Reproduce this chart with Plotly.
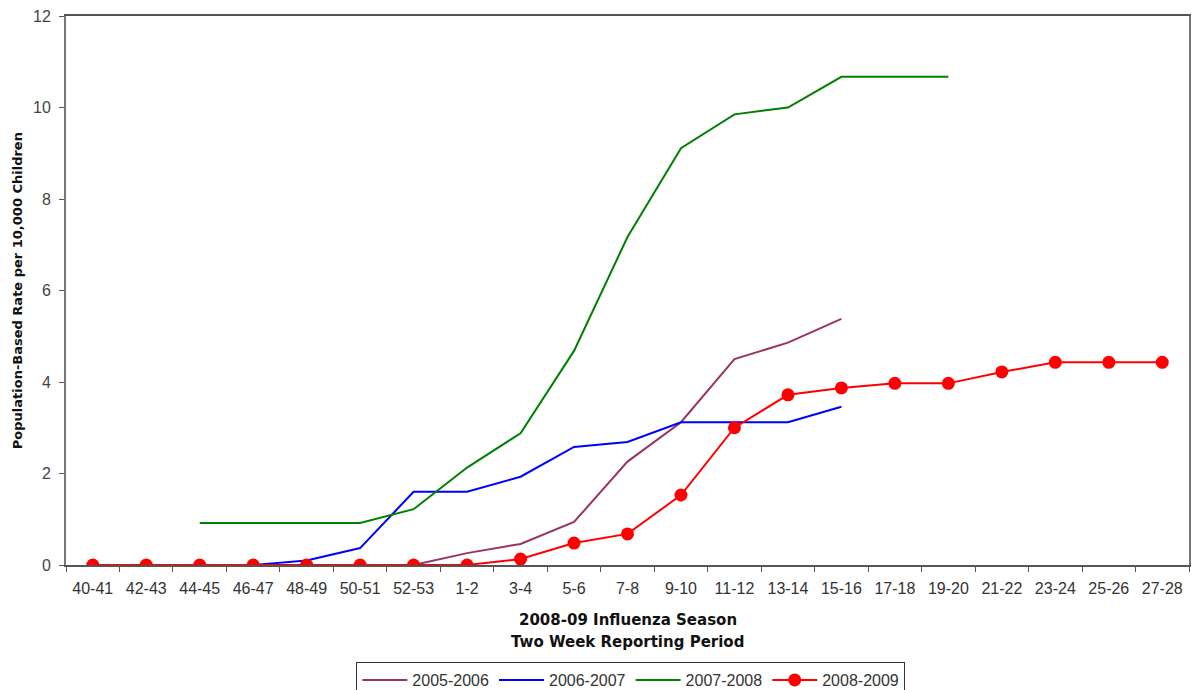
import plotly.graph_objects as go

periods = ["40-41", "42-43", "44-45", "46-47", "48-49", "50-51", "52-53", "1-2", "3-4",
           "5-6", "7-8", "9-10", "11-12", "13-14", "15-16", "17-18", "19-20", "21-22",
           "23-24", "25-26", "27-28"]

s2005 = [0, 0, 0, 0, 0, 0, 0, 0.26, 0.46, 0.94, 2.26, 3.12, 4.5, 4.86, 5.38]
s2006 = [0, 0, 0, 0, 0.1, 0.37, 1.6, 1.6, 1.93, 2.58, 2.69, 3.12, 3.12, 3.12, 3.46]
s2007_periods = periods[2:17]
s2007 = [0.92, 0.92, 0.92, 0.92, 1.22, 2.13, 2.88, 4.68, 7.17, 9.11, 9.85, 10.0, 10.67, 10.67, 10.67]
s2008 = [0, 0, 0, 0, 0, 0, 0, 0, 0.13, 0.48, 0.68, 1.53, 3.0, 3.72, 3.87, 3.97, 3.97,
         4.22, 4.43, 4.43, 4.43]

font_family = "Liberation Sans, Arial, sans-serif"
title_family = "DejaVu Sans, Verdana, sans-serif"

fig = go.Figure()
fig.add_trace(go.Scatter(x=periods[:len(s2005)], y=s2005, mode="lines", name="2005-2006",
                         line=dict(color="#993366", width=2)))
fig.add_trace(go.Scatter(x=periods[:len(s2006)], y=s2006, mode="lines", name="2006-2007",
                         line=dict(color="#0000FF", width=2)))
fig.add_trace(go.Scatter(x=s2007_periods, y=s2007, mode="lines", name="2007-2008",
                         line=dict(color="#008000", width=2)))
fig.add_trace(go.Scatter(x=periods, y=s2008, mode="lines+markers", name="2008-2009",
                         line=dict(color="#FF0000", width=2),
                         marker=dict(color="#FF0000", size=13)))

fig.update_layout(
    width=1194, height=690,
    margin=dict(l=66, r=5, t=16, b=125, autoexpand=False),
    plot_bgcolor="white", paper_bgcolor="white",
    font=dict(family=font_family, size=16, color="#333333"),
    showlegend=True,
    legend=dict(orientation="h", x=0.503, xanchor="center", y=-0.1767, yanchor="top",
                bordercolor="#333333", borderwidth=1, font=dict(size=16, color="#333333"),
                itemwidth=45, tracegroupgap=0),
    xaxis=dict(type="category", categoryorder="array", categoryarray=periods,
               range=[-0.5, 20.5],
               showgrid=False, zeroline=False, showline=True, linecolor="#555555", linewidth=2,
               mirror=True, ticks="outside", tickson="boundaries", ticklen=5,
               ticklabelstandoff=8,
               tickcolor="#555555", tickfont=dict(size=16, color="#333333")),
    yaxis=dict(range=[0, 12], dtick=2, showgrid=False, zeroline=False, showline=True,
               linecolor="#777777", linewidth=2, mirror=True, ticks="outside", ticklen=5,
               ticklabelstandoff=5,
               tickcolor="#555555", tickfont=dict(size=16, color="#444444")),
    annotations=[
        dict(text="<b>2008-09 Influenza Season</b>",
             xref="paper", yref="paper", x=0.5, y=(565 - 620) / 549, xanchor="center",
             yanchor="middle", showarrow=False,
             font=dict(family=title_family, size=15, color="#111111")),
        dict(text="<b>Two Week Reporting Period</b>",
             xref="paper", yref="paper", x=0.5, y=(565 - 642) / 549, xanchor="center",
             yanchor="middle", showarrow=False,
             font=dict(family=title_family, size=15, color="#111111")),
        dict(text="<b>Population-Based Rate per 10,000 Children</b>", textangle=-90,
             xref="paper", yref="paper", x=-0.043, y=0.5, xanchor="center", yanchor="middle",
             showarrow=False, font=dict(family=title_family, size=13, color="#111111")),
    ],
)

fig.write_html("out.html", config={"displayModeBar": False},
               post_script="document.body.style.margin='0';")
